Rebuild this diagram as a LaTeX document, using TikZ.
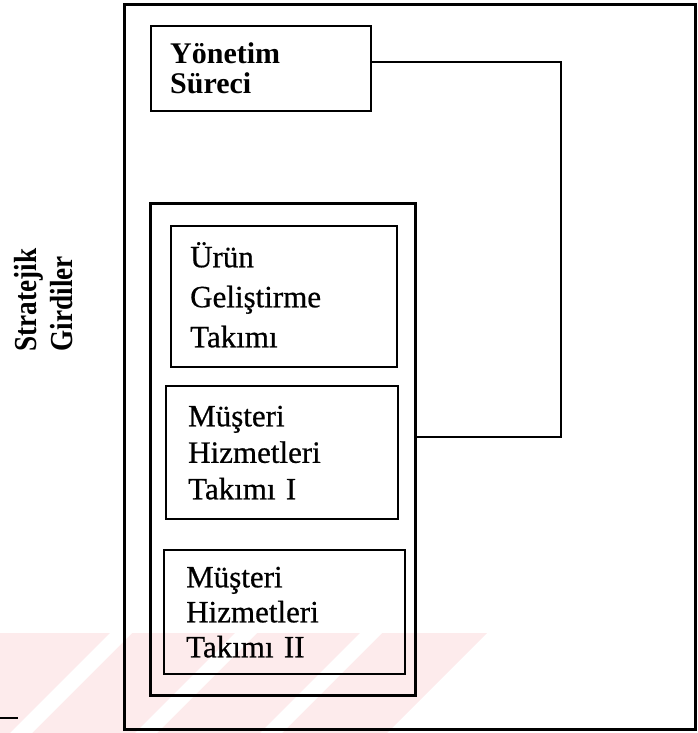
\documentclass[tikz,border=0pt]{standalone}
\usepackage{fontspec}
\setmainfont{Liberation Serif}[BoldFont={*}, BoldFeatures={FakeBold=0.6}]
\newfontfamily\headfont{Liberation Serif}
\newfontfamily\stratfont{Liberation Serif}[FakeStretch=0.85]
\definecolor{wmpink}{RGB}{253,235,236}
\begin{document}
\begin{tikzpicture}[x=1pt,y=-1pt,
  framebox/.style={draw, line width=2.8pt, anchor=north west, inner sep=0pt},
  groupbox/.style={draw, line width=2.5pt, anchor=north west, inner sep=0pt},
  teambox/.style n args={3}{draw, line width=2.4pt, anchor=north west,
     minimum width=#1pt, minimum height=#2pt, text width=#1pt-2*#3pt,
     inner xsep=#3pt, inner ysep=0pt, align=left},
  teamfont/.style={font=\bfseries\fontsize{31}{#1}\selectfont},
  conn/.style={draw, line width=2.3pt},
  sidelabel/.style={rotate=90, align=left, inner sep=0pt,
     font=\stratfont\bfseries\fontsize{32}{36}\selectfont}]
\useasboundingbox (0,0) rectangle (698,733);
% faint watermark band
\begin{scope}
  \clip (0,633) -- (487,633) -- (387,733) -- (0,733) -- cycle;
  \fill[wmpink] (0,633) rectangle (698,733);
  \foreach \s in {110,235,360} {
    \fill[white] (\s,633) -- (\s+22,633) -- (\s-78,733) -- (\s-100,733) -- cycle;
  }
\end{scope}
% frames
\node[framebox, minimum width=571pt, minimum height=725pt] (outer) at (123,3) {};
\node[groupbox, minimum width=265pt, minimum height=492pt] (mid) at (149,202) {};
% boxes
\node[teambox={220}{85}{19}, font=\headfont\bfseries\fontsize{30}{30}\selectfont] (yon) at (150,25) {Yönetim\\Süreci};
\node[teambox={226}{141}{19}, teamfont=40, text depth=84pt] (urun) at (170,225) {Ürün\\Geliştirme\\Takımı};
\node[teambox={232}{133}{22}, teamfont=36.5] (mus1) at (165,385) {Müşteri\\Hizmetleri\\Takımı I};
\node[teambox={241}{124}{22}, teamfont=35] (mus2) at (163,549) {Müşteri\\Hizmetleri\\Takımı II};
% side label
\node[sidelabel] (strat) at (44,300) {Stratejik\\Girdiler};
% connector
\coordinate (c1) at (561,62);
\coordinate (c2) at (561,437);
\draw[conn] (yon.east |- c1) -- (c1) -- (c2) -- (c2 -| mid.east);
% stray short line at bottom left
\coordinate (s1) at (0,718);
\coordinate (s2) at (18,718);
\draw[line width=2.4pt] (s1) -- (s2);
\end{tikzpicture}
\end{document}
